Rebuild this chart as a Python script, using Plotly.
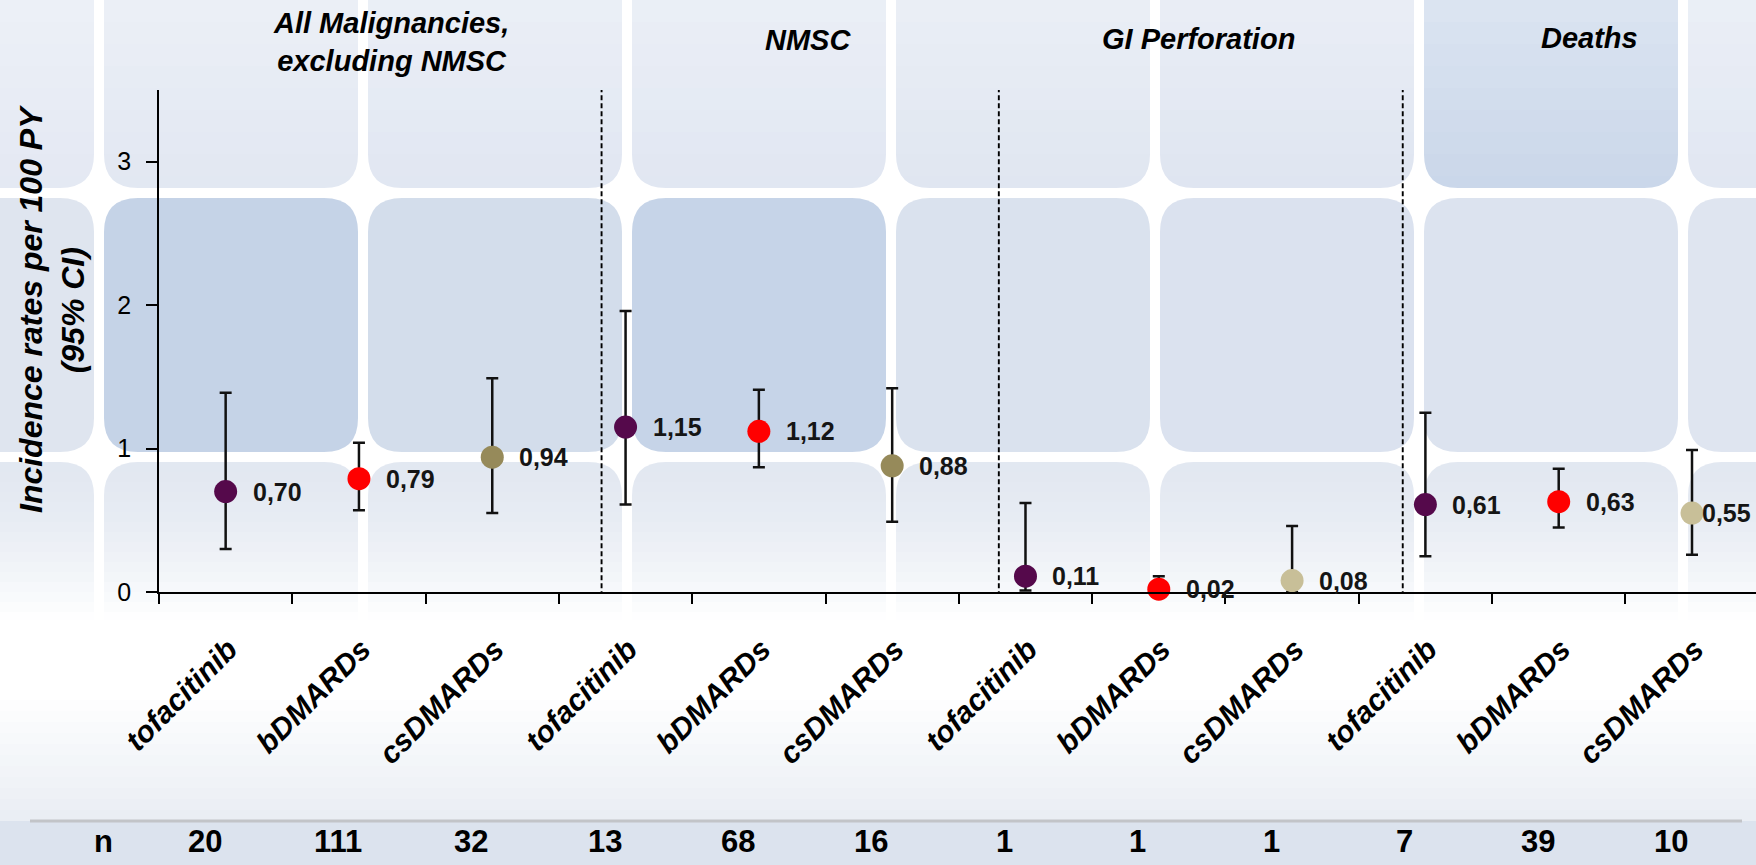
import plotly.graph_objects as go

# ---- data -------------------------------------------------------------
categories = ["tofacitinib", "bDMARDs", "csDMARDs"] * 4
group_titles = ["All Malignancies,<br>excluding NMSC", "NMSC", "GI Perforation", "Deaths"]
rates = [0.70, 0.79, 0.94, 1.15, 1.12, 0.88, 0.11, 0.02, 0.08, 0.61, 0.63, 0.55]
ci_upper = [1.39, 1.04, 1.49, 1.96, 1.41, 1.42, 0.62, 0.11, 0.46, 1.25, 0.86, 0.99]
ci_lower = [0.30, 0.57, 0.55, 0.61, 0.87, 0.49, 0.01, 0.00, 0.00, 0.25, 0.45, 0.26]
n_events = [20, 111, 32, 13, 68, 16, 1, 1, 1, 7, 39, 10]
y_ticks = [0, 1, 2, 3]

# ---- styling ----------------------------------------------------------
PURPLE, RED, OLIVE, BEIGE = "#55094b", "#ff0000", "#968a5a", "#c8bf98"
point_colors = [PURPLE, RED, OLIVE, PURPLE, RED, OLIVE,
                PURPLE, RED, BEIGE, PURPLE, RED, BEIGE]
FONT = "Arial, Liberation Sans, sans-serif"

W, H = 1756, 865
L, R, T, B = 159, 0, 90, 273
PW, PH = W - L - R, H - T - B

x_pos = list(range(len(categories)))
separators = [2.82, 5.80, 8.83]            # dashed dividers between outcome groups
title_x = [1.24, 4.37, 7.30, 10.23]         # group title centres (x units)
title_y_px = [42, 40, 39, 38]


def px_x(px):
    return (px - L) / PW


def px_y(py):
    return (H - B - py) / PH


def rounded_rect(x0, y0, x1, y1, r):
    """Rounded rectangle path in paper units from pixel corners."""
    a, b = px_x(x0), px_x(x1)
    top, bot = px_y(y0), px_y(y1)
    rx, ry = r / PW, r / PH
    return (f"M{a+rx},{top} L{b-rx},{top} Q{b},{top} {b},{top-ry} "
            f"L{b},{bot+ry} Q{b},{bot} {b-rx},{bot} L{a+rx},{bot} "
            f"Q{a},{bot} {a},{bot+ry} L{a},{top-ry} Q{a},{top} {a+rx},{top} Z")


def band(y0, y1, color, opacity=1.0):
    return dict(type="rect", xref="paper", yref="paper", layer="below",
                x0=px_x(0), x1=px_x(W), y0=px_y(y0), y1=px_y(y1),
                fillcolor=color, opacity=opacity, line=dict(width=0))


shapes = []

# background tiles
tile_colors = [
    ["#e4e9f3", "#e2e8f2", "#e1e7f2", "#e1e7f2", "#e0e6f1", "#dfe5f1", "#cad7ea", "#e1e7f2"],
    ["#dfe5ef", "#c5d3e7", "#d3ddeb", "#c6d4e8", "#dae2ee", "#dbe2ef", "#dce3ef", "#dfe5f0"],
    ["#e0e6f0"] * 8,
]
tile_heights = [254, 254, 200]
for j, row in enumerate(tile_colors):
    top = -66 + 264 * j
    for k, col in enumerate(row):
        left = -160 + 264 * k
        shapes.append(dict(type="path", xref="paper", yref="paper", layer="below",
                           path=rounded_rect(left, top, left + 254, top + tile_heights[j], 34),
                           fillcolor=col, line=dict(width=0)))

# lighter top of the upper tiles
for i in range(8):
    shapes.append(band(i * 22, i * 22 + 22, "white", 0.32 * (1 - i / 8)))

# lower tiles fading into white
n_fade = 16
for i in range(n_fade):
    y0 = 462 + i * 10
    t = (i + 0.5) / n_fade
    shapes.append(band(y0, y0 + 10, "white", min(1.0, 0.08 + 0.92 * t ** 1.6)))
shapes.append(band(620, 700, "white"))

# bluish haze towards the bottom
for i in range(11):
    y0 = 700 + i * 11
    shapes.append(band(y0, y0 + 11, "#dfe5ef", 0.06 + i * 0.06))
shapes.append(band(821, H, "#dce3ee"))
# rule above the n row
shapes.append(dict(type="line", xref="paper", yref="paper", layer="below",
                   x0=px_x(30), x1=px_x(1742), y0=px_y(821), y1=px_y(821),
                   line=dict(color="#c2c4c8", width=3)))

# dashed group dividers
for s in separators:
    shapes.append(dict(type="line", xref="x", yref="y", layer="above",
                       x0=s, x1=s, y0=-0.03, y1=3.5,
                       line=dict(color="black", width=1.9, dash="5px,3px")))

fig = go.Figure()
fig.add_trace(go.Scatter(
    x=x_pos, y=rates, mode="markers",
    marker=dict(size=23, color=point_colors, line=dict(width=0)),
    error_y=dict(type="data", symmetric=False,
                 array=[u - v for u, v in zip(ci_upper, rates)],
                 arrayminus=[v - l for v, l in zip(rates, ci_lower)],
                 color="#111111", thickness=2.5, width=6),
    hoverinfo="skip", showlegend=False, cliponaxis=False,
))

annotations = []
# value labels
for i, v in enumerate(rates):
    annotations.append(dict(
        x=x_pos[i], y=v, xref="x", yref="y", showarrow=False,
        text=f"{v:.2f}".replace(".", ","), xanchor="left", yanchor="middle",
        xshift=8 if i == len(rates) - 1 else 25,
        font=dict(family=FONT, size=25, color="#151515", weight="bold")))

# group titles
for t, tx, ty in zip(group_titles, title_x, title_y_px):
    annotations.append(dict(
        x=tx, y=px_y(ty), xref="x", yref="paper", showarrow=False,
        text=t, xanchor="center", yanchor="middle",
        font=dict(family=FONT, size=29, color="black", weight="bold", style="italic")))

# y axis title
annotations.append(dict(
    x=px_x(52), y=px_y(309), xref="paper", yref="paper", showarrow=False,
    text="Incidence rates per 100 PY<br>(95% CI)", textangle=-90,
    xanchor="center", yanchor="middle",
    font=dict(family=FONT, size=32, color="black", weight="bold", style="italic")))

# n row
annotations.append(dict(
    x=px_x(103), y=px_y(841), xref="paper", yref="paper", showarrow=False,
    text="n", xanchor="center", yanchor="middle",
    font=dict(family=FONT, size=31, color="black", weight="bold")))
for i, n in enumerate(n_events):
    annotations.append(dict(
        x=x_pos[i], y=px_y(841), xref="x", yref="paper", showarrow=False,
        text=str(n), xanchor="center", yanchor="middle", xshift=-21,
        font=dict(family=FONT, size=31, color="black", weight="bold")))

fig.update_layout(
    width=W, height=H,
    margin=dict(l=L, r=R, t=T, b=B, pad=0),
    paper_bgcolor="white", plot_bgcolor="rgba(0,0,0,0)",
    shapes=shapes, annotations=annotations,
    xaxis=dict(
        range=[-0.5, 11.48], tickmode="array", tickvals=x_pos, ticktext=categories,
        tickangle=-45, ticks="", ticklabelstandoff=26, ticklabelshift=3,
        tickfont=dict(family=FONT, size=30, color="black", weight="bold", style="italic"),
        showline=True, linecolor="black", linewidth=1.5, showgrid=False, zeroline=False,
        minor=dict(tickmode="array", tickvals=[p - 0.5 for p in x_pos],
                   ticks="outside", ticklen=10, tickwidth=1.5, tickcolor="black",
                   showgrid=False),
    ),
    yaxis=dict(
        range=[0, 3.5], tickmode="array", tickvals=y_ticks,
        ticks="outside", ticklen=11, tickwidth=1.5, tickcolor="black",
        ticklabelstandoff=10,
        tickfont=dict(family=FONT, size=25, color="black"),
        showline=True, linecolor="black", linewidth=1.5, showgrid=False, zeroline=False,
    ),
)

fig.write_html("out.html")
